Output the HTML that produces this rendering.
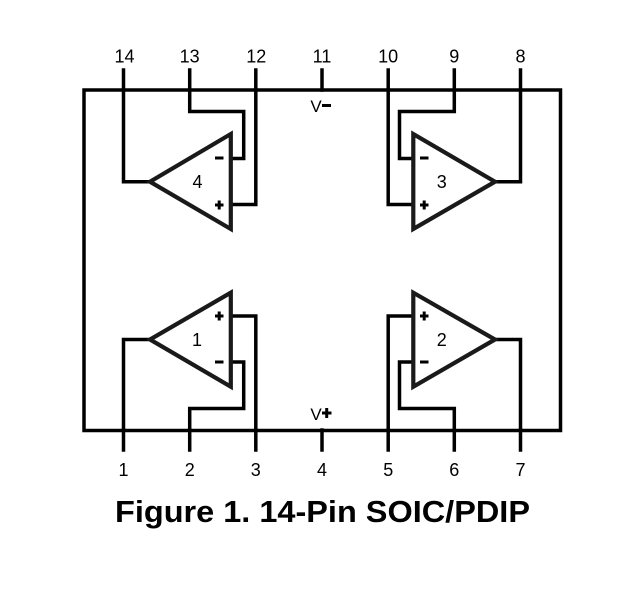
<!DOCTYPE html>
<html>
<head>
<meta charset="utf-8">
<style>
html,body{margin:0;padding:0;background:#fff;}
svg{display:block;}
</style>
</head>
<body>
<svg width="637" height="598" viewBox="0 0 637 598" xmlns="http://www.w3.org/2000/svg">
<rect width="637" height="598" fill="#fff"/>
<g fill="none" stroke="#000" stroke-width="3.5" stroke-linecap="square" stroke-linejoin="miter">
  <!-- package box -->
  <rect x="84" y="90" width="476.5" height="340.5"/>
  <!-- top pin stubs -->
  <line x1="123.5" y1="70" x2="123.5" y2="90"/>
  <line x1="189.7" y1="70" x2="189.7" y2="90"/>
  <line x1="255.8" y1="70" x2="255.8" y2="90"/>
  <line x1="322" y1="70" x2="322" y2="90"/>
  <line x1="388.2" y1="70" x2="388.2" y2="90"/>
  <line x1="454.3" y1="70" x2="454.3" y2="90"/>
  <line x1="520.5" y1="70" x2="520.5" y2="90"/>
  <!-- bottom pin stubs -->
  <line x1="123.5" y1="430" x2="123.5" y2="450"/>
  <line x1="189.7" y1="430" x2="189.7" y2="450"/>
  <line x1="255.8" y1="430" x2="255.8" y2="450"/>
  <line x1="322" y1="430" x2="322" y2="450"/>
  <line x1="388.2" y1="430" x2="388.2" y2="450"/>
  <line x1="454.3" y1="430" x2="454.3" y2="450"/>
  <line x1="520.5" y1="430" x2="520.5" y2="450"/>

  <!-- op-amp 4 wiring -->
  <polyline points="123.5,90 123.5,181.7 150,181.7"/>
  <polyline points="189.7,90 189.7,111.5 243.7,111.5 243.7,158.5 231,158.5"/>
  <polyline points="255.8,90 255.8,204.5 231,204.5"/>
  <!-- op-amp 3 wiring -->
  <polyline points="520.5,90 520.5,181.7 495,181.7"/>
  <polyline points="454.3,90 454.3,111.5 399.5,111.5 399.5,158.5 413,158.5"/>
  <polyline points="388.2,90 388.2,204.5 413,204.5"/>
  <!-- op-amp 1 wiring -->
  <polyline points="123.5,430 123.5,339.5 150,339.5"/>
  <polyline points="189.7,430 189.7,408.5 243.7,408.5 243.7,362 231,362"/>
  <polyline points="255.8,430 255.8,316 231,316"/>
  <!-- op-amp 2 wiring -->
  <polyline points="520.5,430 520.5,339.5 495,339.5"/>
  <polyline points="454.3,430 454.3,408.5 399.5,408.5 399.5,362 413,362"/>
  <polyline points="388.2,430 388.2,316 413,316"/>
</g>
<g fill="none" stroke="#1a1a1a" stroke-width="4.2" stroke-linejoin="miter">
  <polygon points="230.8,134 230.8,229 150,181.7"/>
  <polygon points="413.3,134 413.3,229 495,181.7"/>
  <polygon points="230.8,292.7 230.8,386.7 150,339.5"/>
  <polygon points="413.3,292.7 413.3,386.7 495,339.5"/>
</g>
<!-- +/- signs -->
<g stroke="#000" stroke-width="3" fill="none">
  <line x1="215" y1="158" x2="223.5" y2="158"/>
  <line x1="215" y1="205" x2="223.5" y2="205"/><line x1="219.2" y1="200.5" x2="219.2" y2="209.5"/>
  <line x1="420" y1="158" x2="428.5" y2="158"/>
  <line x1="420" y1="205" x2="428.5" y2="205"/><line x1="424.2" y1="200.5" x2="424.2" y2="209.5"/>
  <line x1="215" y1="316" x2="223.5" y2="316"/><line x1="219.2" y1="311.5" x2="219.2" y2="320.5"/>
  <line x1="215" y1="362" x2="223.5" y2="362"/>
  <line x1="420" y1="316" x2="428.5" y2="316"/><line x1="424.2" y1="311.5" x2="424.2" y2="320.5"/>
  <line x1="420" y1="362" x2="428.5" y2="362"/>
  <!-- V- and V+ signs -->
  <line x1="322" y1="105.5" x2="331" y2="105.5"/>
  <line x1="322" y1="413" x2="331.5" y2="413"/><line x1="326.7" y1="408" x2="326.7" y2="418"/>
</g>
<g font-family="'Liberation Sans', sans-serif" font-size="18" fill="#000" text-anchor="middle">
  <text x="124.5" y="62.5">14</text>
  <text x="189.7" y="62.5">13</text>
  <text x="256.3" y="62.5">12</text>
  <text x="322" y="62.5">11</text>
  <text x="388.2" y="62.5">10</text>
  <text x="454.3" y="62.5">9</text>
  <text x="520.5" y="62.5">8</text>
  <text x="123.5" y="476">1</text>
  <text x="189.7" y="476">2</text>
  <text x="255.8" y="476">3</text>
  <text x="322" y="476">4</text>
  <text x="388.2" y="476">5</text>
  <text x="454.3" y="476">6</text>
  <text x="520.5" y="476">7</text>
  <text x="197.5" y="188">4</text>
  <text x="441.7" y="188">3</text>
  <text x="197" y="346">1</text>
  <text x="441.7" y="346">2</text>
  <text x="316" y="112" font-size="17">V</text>
  <text x="316" y="420" font-size="17">V</text>
</g>
<text x="115" y="522" font-family="'Liberation Sans', sans-serif" font-weight="bold" font-size="31" fill="#000" textLength="415" lengthAdjust="spacingAndGlyphs">Figure 1. 14-Pin SOIC/PDIP</text>
</svg>
</body>
</html>
